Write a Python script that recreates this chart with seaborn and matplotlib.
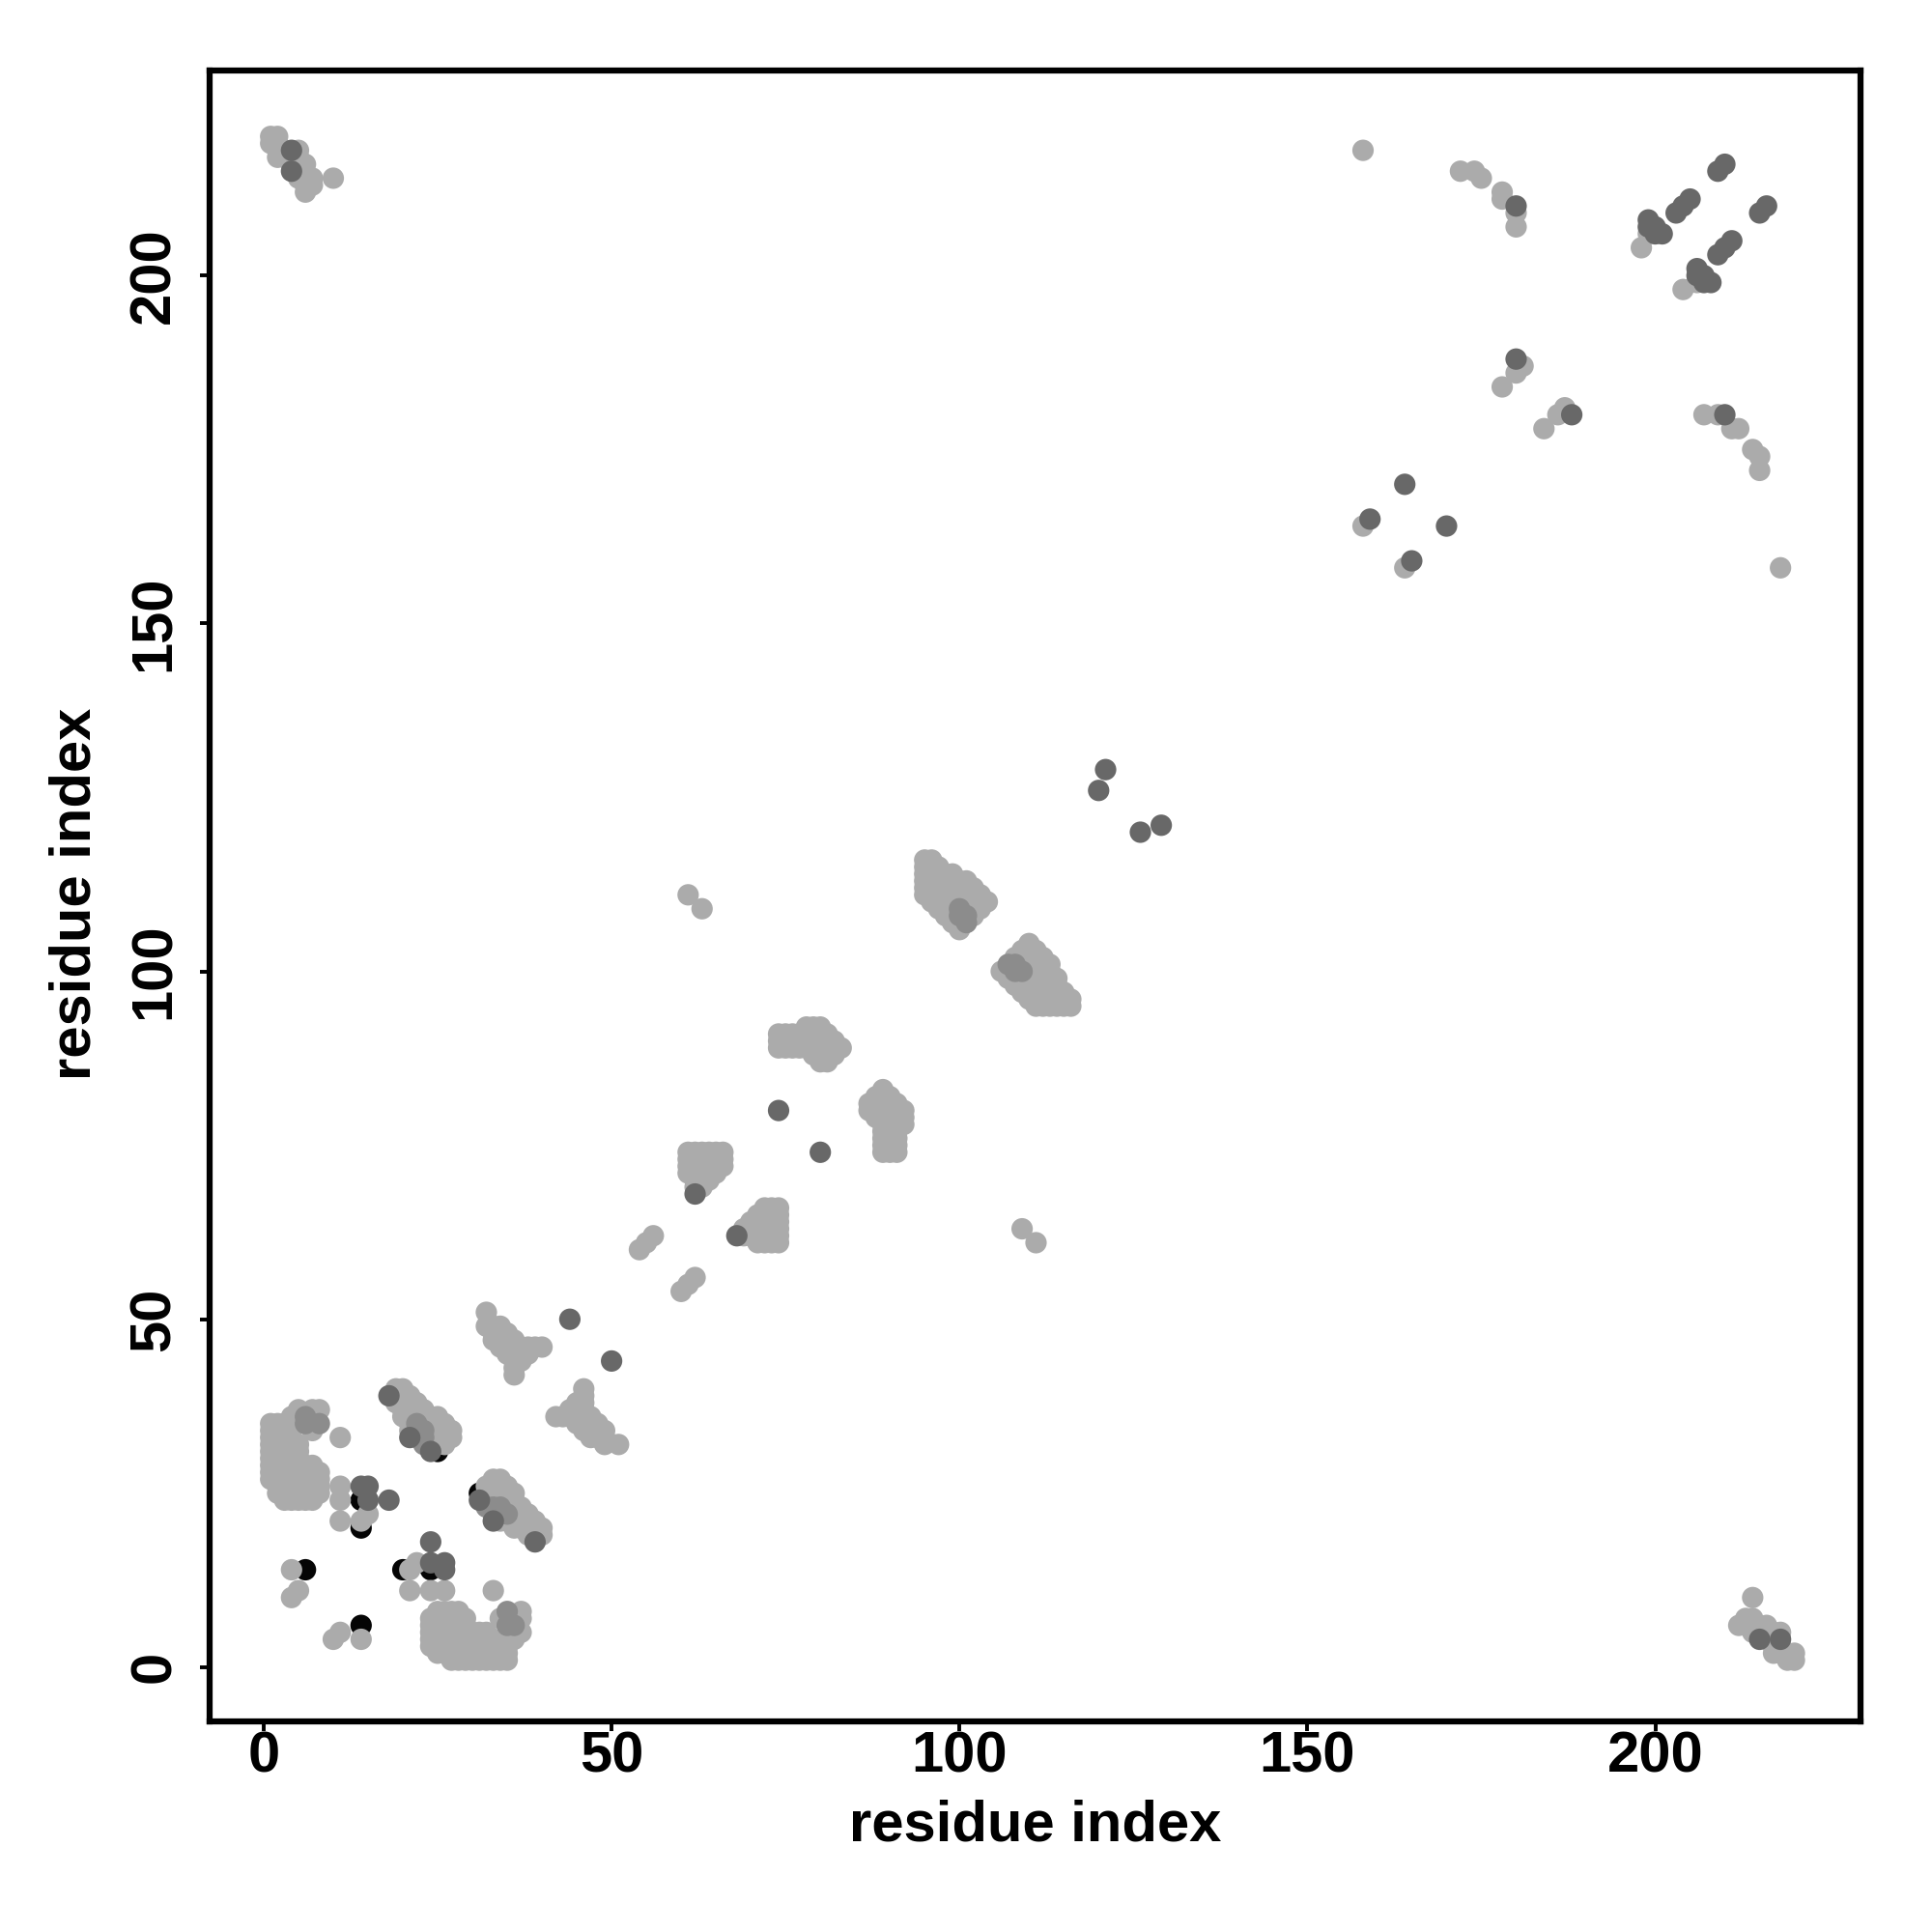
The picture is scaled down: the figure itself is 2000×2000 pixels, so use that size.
import matplotlib
matplotlib.use("Agg")
import matplotlib.pyplot as plt
import seaborn as sns
import pandas as pd

# contact spans (upper triangle): residue i, first j, last j, grey level
# level 1 = light, 2 = mid, 3 = dark, 4 = black; map is symmetric
span_i = []
span_lo = []
span_hi = []
span_lev = []

contacts = [
    # N-term / C-term corner
    (1, 219, 220, 1), (2, 217, 220, 1), (3, 217, 218, 1), (4, 216, 216, 1),
    (4, 218, 218, 3), (4, 215, 215, 3), (5, 214, 218, 1), (6, 212, 213, 1),
    (6, 216, 216, 1), (7, 213, 214, 1), (10, 214, 214, 1),
    # block near 0-8 / 24-37
    (1, 27, 35, 1), (2, 25, 35, 1), (3, 24, 35, 1),
    (4, 24, 33, 1), (4, 35, 36, 1), (5, 24, 32, 1), (5, 35, 37, 1),
    (6, 24, 29, 1), (6, 35, 36, 2), (7, 24, 29, 1), (7, 34, 37, 1),
    (8, 25, 28, 1), (8, 35, 35, 2), (8, 37, 37, 1), (11, 33, 33, 1),
    (4, 14, 14, 1), (4, 10, 10, 1), (5, 11, 11, 1), (6, 14, 14, 4),
    # 11-18 / 20-26
    (11, 21, 21, 1), (11, 24, 24, 1), (11, 26, 26, 1),
    (14, 20, 20, 4), (14, 21, 21, 1), (14, 24, 24, 4), (14, 26, 26, 3),
    (15, 22, 22, 1), (15, 24, 24, 3), (15, 26, 26, 3), (18, 24, 24, 3),
    # 18-27 / 31-40
    (18, 39, 39, 3), (19, 38, 40, 1), (20, 36, 40, 1),
    (21, 33, 33, 3), (21, 34, 39, 1), (22, 33, 35, 2), (22, 36, 38, 1),
    (23, 32, 34, 2), (23, 35, 37, 1), (24, 31, 31, 3), (24, 32, 36, 1),
    (25, 31, 31, 4), (25, 32, 36, 1), (26, 32, 35, 1), (27, 33, 34, 1),
    # 32-40 / 42-51
    (32, 51, 51, 1), (32, 49, 49, 1), (33, 47, 49, 1), (34, 46, 49, 1),
    (35, 45, 48, 1), (36, 42, 47, 1), (37, 44, 46, 1), (38, 45, 46, 1),
    (39, 46, 46, 1), (40, 46, 46, 1), (44, 50, 50, 3),
    # 54-66 / 60-74
    (54, 60, 60, 1), (55, 61, 61, 1), (56, 62, 62, 1),
    (61, 71, 74, 1), (62, 68, 68, 3), (62, 69, 74, 1), (63, 69, 74, 1),
    (64, 70, 74, 1), (65, 71, 74, 1), (66, 72, 74, 1),
    # 74-83 / 87-92
    (74, 89, 91, 1), (75, 89, 91, 1), (76, 89, 91, 1), (77, 89, 91, 1),
    (78, 89, 92, 1), (79, 88, 92, 1), (80, 87, 92, 1), (81, 87, 91, 1),
    (82, 88, 90, 1), (83, 89, 89, 1), (74, 80, 80, 3),
    (61, 111, 111, 1), (63, 109, 109, 1),
    # 95-104 / 106-116
    (95, 111, 116, 1), (96, 110, 116, 1), (97, 109, 115, 1),
    (98, 108, 114, 1), (99, 107, 114, 1),
    (100, 106, 107, 1), (100, 108, 109, 2), (100, 110, 113, 1),
    (101, 107, 108, 2), (101, 109, 113, 1), (102, 108, 112, 1),
    (103, 109, 111, 1), (104, 110, 110, 1),
    (120, 126, 126, 3), (121, 129, 129, 3),
    # C-terminal region
    (158, 164, 164, 1), (159, 165, 165, 3), (164, 170, 170, 3),
    (158, 218, 218, 1), (172, 215, 215, 1), (174, 215, 215, 1),
    (175, 214, 214, 1), (178, 211, 212, 1),
    (180, 210, 210, 3), (180, 209, 209, 1), (180, 207, 207, 1),
    (178, 184, 184, 1), (180, 186, 186, 1), (180, 188, 188, 3),
    (181, 187, 187, 1),
    (198, 204, 204, 1), (199, 206, 206, 1), (199, 207, 208, 3),
    (200, 206, 207, 3), (201, 206, 206, 3),
    (203, 209, 209, 3), (204, 210, 210, 3), (205, 211, 211, 3),
    (209, 215, 215, 3), (210, 216, 216, 3),
]
for c in contacts:
    span_i.append(c[0])
    span_lo.append(c[1])
    span_hi.append(c[2])
    span_lev.append(c[3])

greys = {1: "#ababab", 2: "#8c8c8c", 3: "#686868", 4: "#050505"}
draw_order = {4: 0, 1: 1, 2: 2, 3: 3}   # black first, dark grey on top

rows = []
for i, lo, hi, lev in zip(span_i, span_lo, span_hi, span_lev):
    for j in range(lo, hi + 1):
        rows.append((i, j, lev))
        rows.append((j, i, lev))
df = pd.DataFrame(rows, columns=["x", "y", "level"])
df["order"] = df["level"].map(draw_order)
df = df.sort_values("order", kind="stable")

sns.set_style("white")
plt.rcParams["font.family"] = ["Liberation Sans", "DejaVu Sans"]
plt.rcParams["font.weight"] = "bold"
plt.rcParams["text.color"] = "black"
plt.rcParams["axes.labelcolor"] = "black"
plt.rcParams["xtick.color"] = "black"
plt.rcParams["ytick.color"] = "black"

fig = plt.figure(figsize=(20, 20), dpi=100)
ax = fig.add_axes([0.1084, 0.109, 0.8546, 0.8546])

sns.scatterplot(data=df, x="x", y="y", hue="level", palette=greys,
                s=255, linewidth=0, legend=False, ax=ax)

ax.set_xlim(-7.8, 229.5)
ax.set_ylim(-7.8, 229.5)
ax.set_xticks([0, 50, 100, 150, 200])
ax.set_yticks([0, 50, 100, 150, 200])
for sp in ax.spines.values():
    sp.set_visible(True)
    sp.set_linewidth(4.5)
    sp.set_color("black")

ax.tick_params(axis="both", direction="out", length=7, width=2.8,
               labelsize=43, colors="black", bottom=True, left=True)
ax.tick_params(axis="x", pad=0)
ax.tick_params(axis="y", pad=14)
for lab in ax.get_yticklabels():
    lab.set_rotation(90)
    lab.set_va("center")
for lab in ax.get_xticklabels() + ax.get_yticklabels():
    lab.set_fontweight("bold")
    lab.set_color("black")

ax.set_xlabel("residue index", fontsize=43, fontweight="bold", va="center",
              color="black")
ax.set_ylabel("residue index", fontsize=43, fontweight="bold", va="center",
              color="black")
ax.xaxis.set_label_coords(0.5, -0.063)
ax.yaxis.set_label_coords(-0.081, 0.501)

fig.savefig("out.png", dpi=100, facecolor="white")
